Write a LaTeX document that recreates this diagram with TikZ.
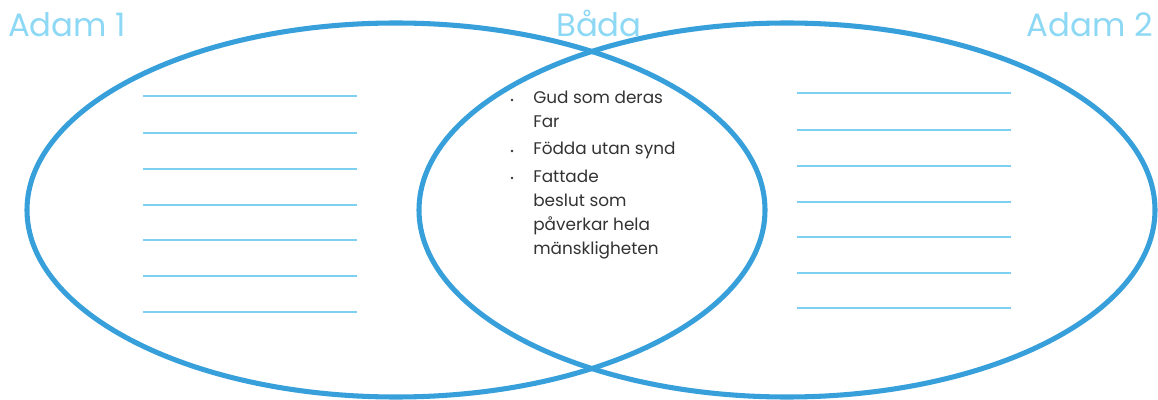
\documentclass[tikz,border=0pt]{standalone}
\usepackage{fontspec}
\setmainfont{Poppins}
\definecolor{ringblue}{HTML}{379FDA}
\definecolor{lineblue}{HTML}{7DD0F2}
\definecolor{titleblue}{HTML}{8DD8F4}
\definecolor{textgray}{HTML}{333333}
\tikzset{
	ring/.style={color=ringblue, line width=3.6pt},
	writeline/.style={color=lineblue, line width=1.4pt},
	title/.style={color=titleblue, font=\fontsize{23}{26}\selectfont, anchor=base},
	item/.style={color=textgray, font=\fontsize{12}{17.3}\selectfont, align=left, anchor=base west, inner sep=0pt},
	dot/.style={circle, fill=textgray, inner sep=0pt, minimum size=2pt}
}
\begin{document}
\begin{tikzpicture}[x=0.025cm, y=-0.025cm]
	\useasboundingbox (0,0) rectangle (1158,400); % keret
	\draw[ring] (396,210) ellipse (369 and 187); %bal
	\draw[ring] (787,210) ellipse (368 and 187); %jobb
	% címek
	\node[title] (adam1) at (67,37) {Adam 1};
	\node[title] (bada) at (599,37) {Båda};
	\node[title] (adam2) at (1090,37) {Adam 2};
	% vonalak
	\foreach \y in {96,133,169,205,240,276,312}
		\draw[writeline] (143,\y) -- (357,\y);
	\foreach \y in {93,130,166,202,237,273,308}
		\draw[writeline] (797,\y) -- (1011,\y);
	% közös (base = utolsó sor)
	\node[item] (gud) at (533,128) {Gud som deras\\Far};
	\node[item] (fodda) at (533,155) {Födda utan synd};
	\node[item] (fattade) at (533,255) {Fattade\\beslut som\\påverkar hela\\mänskligheten};
	\node[dot] (d1) at (512,100) {};
	\node[dot] (d2) at (512,151) {};
	\node[dot] (d3) at (512,178) {};
\end{tikzpicture}
\end{document}
